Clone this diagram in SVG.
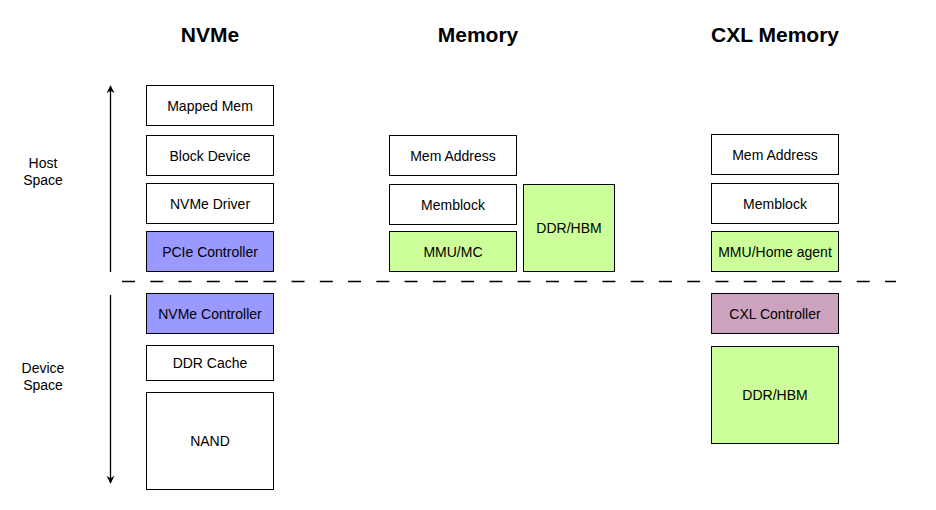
<svg xmlns="http://www.w3.org/2000/svg" width="936" height="510" viewBox="0 0 936 510">
<style>
.box{stroke:#000;stroke-width:1}
.w{fill:#fff}.b{fill:#9999ff}.g{fill:#ccff99}.p{fill:#cda2be}
text{font-family:"Liberation Sans",Arial,sans-serif;fill:#000}
.lbl{font-size:14px;text-anchor:middle;dominant-baseline:central}
.title{font-size:21px;font-weight:bold;text-anchor:middle}
.side{font-size:14px;text-anchor:middle}
</style>
<defs>
<marker id="ah" viewBox="0 0 10 10" refX="9" refY="5" markerWidth="8" markerHeight="8" markerUnits="userSpaceOnUse" orient="auto"><path d="M0,0 L10,5 L0,10 L3,5 Z" fill="#000"/></marker>
</defs>
<rect width="936" height="510" fill="#fff"/>
<text class="title" x="210" y="42">NVMe</text>
<text class="title" x="478" y="42">Memory</text>
<text class="title" x="775" y="42">CXL Memory</text>
<text class="side" x="43" y="168">Host</text>
<text class="side" x="43" y="185">Space</text>
<text class="side" x="43" y="373">Device</text>
<text class="side" x="43" y="390">Space</text>
<g id="connectors" fill="none" stroke="#000">
<line x1="110.5" y1="272" x2="110.5" y2="86" stroke-width="1.3" marker-end="url(#ah)"/>
<line x1="110.5" y1="295" x2="110.5" y2="483" stroke-width="1.3" marker-end="url(#ah)"/>
<line x1="122" y1="281.5" x2="896" y2="281.5" stroke-width="1.6" stroke-dasharray="13 15.26"/>
</g>
<g id="mapped-mem"><rect class="box w" x="146.5" y="85.5" width="127" height="40"/><text class="lbl" x="210" y="105.5">Mapped Mem</text></g>
<g id="block-device"><rect class="box w" x="146.5" y="135.5" width="127" height="40"/><text class="lbl" x="210" y="155.5">Block Device</text></g>
<g id="nvme-driver"><rect class="box w" x="146.5" y="183.5" width="127" height="40"/><text class="lbl" x="210" y="203.5">NVMe Driver</text></g>
<g id="pcie-controller"><rect class="box b" x="146.5" y="231.5" width="127" height="40"/><text class="lbl" x="210" y="251.5">PCIe Controller</text></g>
<g id="nvme-controller"><rect class="box b" x="146.5" y="293.5" width="127" height="40"/><text class="lbl" x="210" y="313.5">NVMe Controller</text></g>
<g id="ddr-cache"><rect class="box w" x="146.5" y="345.5" width="127" height="35"/><text class="lbl" x="210" y="363">DDR Cache</text></g>
<g id="nand"><rect class="box w" x="146.5" y="392.5" width="127" height="97"/><text class="lbl" x="210" y="441">NAND</text></g>
<g id="mem-address"><rect class="box w" x="389.5" y="135.5" width="127" height="40"/><text class="lbl" x="453" y="155.5">Mem Address</text></g>
<g id="memblock"><rect class="box w" x="389.5" y="184.5" width="127" height="40"/><text class="lbl" x="453" y="204.5">Memblock</text></g>
<g id="mmu-mc"><rect class="box g" x="389.5" y="231.5" width="127" height="40"/><text class="lbl" x="453" y="251.5">MMU/MC</text></g>
<g id="ddr-hbm"><rect class="box g" x="523.5" y="184.5" width="91" height="87"/><text class="lbl" x="569" y="228">DDR/HBM</text></g>
<g id="cxl-mem-address"><rect class="box w" x="711.5" y="134.5" width="127" height="40"/><text class="lbl" x="775" y="154.5">Mem Address</text></g>
<g id="cxl-memblock"><rect class="box w" x="711.5" y="183.5" width="127" height="40"/><text class="lbl" x="775" y="203.5">Memblock</text></g>
<g id="mmu-home-agent"><rect class="box g" x="711.5" y="231.5" width="127" height="40"/><text class="lbl" x="775" y="251.5">MMU/Home agent</text></g>
<g id="cxl-controller"><rect class="box p" x="711.5" y="293.5" width="127" height="40"/><text class="lbl" x="775" y="313.5">CXL Controller</text></g>
<g id="cxl-ddr-hbm"><rect class="box g" x="711.5" y="346.5" width="127" height="97"/><text class="lbl" x="775" y="395">DDR/HBM</text></g>
</svg>
